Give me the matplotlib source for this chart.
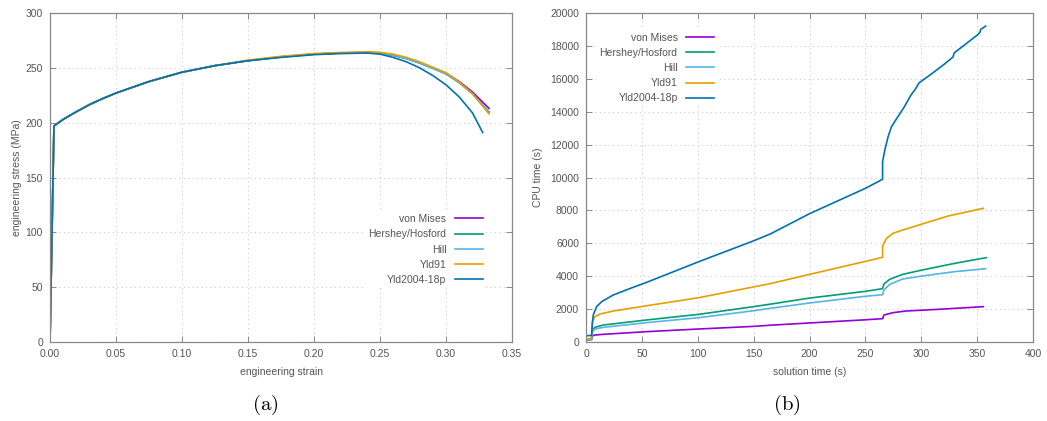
#!/usr/bin/env python3
# -*- coding: utf-8 -*-
"""
    Engineering stress-strain curves and CPU time for the yield criteria.
"""

import matplotlib
matplotlib.use('Agg')
import matplotlib.pyplot as plt

plt.rcParams['font.family'] = ['Liberation Sans', 'DejaVu Sans']
plt.rcParams['mathtext.fontset'] = 'cm'

labels = ['von Mises', 'Hershey/Hosford', 'Hill', 'Yld91', 'Yld2004-18p']
colors = ['#9400d3', '#009e73', '#56b4e9', '#e69f00', '#0072b2']

# (a) engineering strain vs engineering stress (MPa)
strain = [0.0, 0.003, 0.01, 0.02, 0.03, 0.04, 0.05, 0.075, 0.10, 0.125,
          0.15, 0.175, 0.20, 0.22, 0.24, 0.25, 0.26, 0.27, 0.28, 0.29,
          0.30, 0.31, 0.32, 0.3326]
stress_vm = [0, 197, 203, 210, 216.5, 222, 227, 237.5, 246, 252,
             256.5, 260, 262.5, 263.5, 264, 263.5, 261.5, 258.5, 254.5, 250,
             245, 237.5, 228, 213]
stress_hh = [0, 197, 203, 210, 216.5, 222, 227, 237.5, 246, 252,
             256.5, 260, 262.5, 263.5, 264, 263.5, 261.5, 258.5, 254.5, 249.5,
             244.5, 236.5, 226.5, 209.5]
stress_hill = [0, 197, 203, 210, 216.5, 222, 227, 237.5, 246, 252,
               256.5, 260, 262.5, 263.5, 264, 263.5, 261.5, 258.5, 254.5, 249.5,
               244.5, 236.5, 226.5, 210]
stress_yld91 = [0, 197, 203, 210, 216.5, 222, 227, 237.5, 246, 252,
                257, 260.5, 263, 264, 264.5, 264.2, 262.5, 259.5, 255.5, 250.5,
                245.5, 237, 226.5, 208]
strain_yld2004 = [0.0, 0.003, 0.01, 0.02, 0.03, 0.04, 0.05, 0.075, 0.10, 0.125,
                  0.15, 0.175, 0.20, 0.22, 0.24, 0.25, 0.26, 0.27, 0.28, 0.29,
                  0.30, 0.31, 0.32, 0.3278]
stress_yld2004 = [0, 197, 203, 210, 216.5, 222, 227, 237.5, 246, 252,
                  256.5, 259.5, 262, 263, 263.5, 262.5, 259.5, 255.5, 250, 243,
                  234.5, 223.5, 209, 191]

# (b) solution time (s) vs CPU time (s)
t_vm = [0, 5, 5.7, 8, 15.5, 54, 101, 150, 165, 200, 250, 265.4, 266.6,
        274.7, 286.3, 315.4, 355.5]
cpu_vm = [100, 150, 365, 426, 466, 628, 790, 950, 1020, 1157, 1350, 1418, 1641,
          1783, 1884, 1986, 2148]
t_hh = [0, 5, 5.7, 8, 15.5, 54, 101, 150, 165, 200, 250, 265.4, 266.6,
        271.8, 283.4, 300.9, 330, 358.1]
cpu_hh = [120, 200, 730, 892, 1033, 1337, 1682, 2150, 2300, 2670, 3080, 3242,
          3526, 3810, 4113, 4377, 4782, 5127]
t_hill = [0, 5, 5.7, 8, 15.5, 54, 101, 150, 165, 200, 250, 265.4, 266.6,
          271.8, 283.4, 300.9, 330, 357.6]
cpu_hill = [110, 180, 628, 790, 892, 1175, 1479, 1900, 2050, 2370, 2780, 2877,
            3161, 3505, 3830, 4012, 4276, 4458]
t_yld91 = [0, 5, 5.7, 8, 12.5, 24.4, 54, 101, 165, 200, 250, 265.4, 265.4,
           268.9, 274.7, 283.4, 300.9, 324.1, 355.5]
cpu_yld91 = [150, 250, 1236, 1540, 1702, 1884, 2200, 2695, 3550, 4110, 4900,
             5147, 5836, 6302, 6605, 6808, 7173, 7660, 8126]
t_yld2004 = [0, 5, 5.7, 6.5, 9.5, 14, 24.4, 39.3, 54, 101, 150, 165, 200, 250,
             265.4, 265.4, 267.4, 270.3, 273.3, 279, 284.9, 290.7, 295, 298,
             309.6, 321.2, 328.5, 329.4, 340.1, 350.9, 352.6, 353.2, 357.6]
cpu_yld2004 = [380, 400, 1135, 1641, 2148, 2452, 2857, 3250, 3620, 4884, 6150,
               6570, 7800, 9340, 9890, 10960, 11670, 12470, 13080, 13690,
               14300, 15000, 15400, 15750, 16320, 16920, 17330, 17570, 18130,
               18700, 18840, 19000, 19200]

GRAY = '#555555'
FS = 7.5


def style_axes(ax):
    for sp in ax.spines.values():
        sp.set_color('#888888')
        sp.set_linewidth(0.9)
    ax.tick_params(direction='in', length=4, width=0.7, color='#888888',
                   labelcolor=GRAY, labelsize=FS, top=True, right=True, pad=5)
    ax.grid(True, color='#cccccc', linestyle=(0, (1, 3)), linewidth=0.8)
    ax.set_axisbelow(True)


def style_legend(leg):
    leg.get_frame().set_edgecolor('none')
    leg.get_frame().set_facecolor('white')
    leg.get_frame().set_alpha(1)
    for t in leg.get_texts():
        t.set_color(GRAY)


fig = plt.figure(figsize=(10.47, 4.21), dpi=100)
ax1 = fig.add_axes([50 / 1047, 79 / 421, 462 / 1047, 329 / 421])
ax2 = fig.add_axes([586 / 1047, 79 / 421, 447 / 1047, 329 / 421])

series_a = [(strain, stress_vm), (strain, stress_hh), (strain, stress_hill),
            (strain, stress_yld91), (strain_yld2004, stress_yld2004)]
for (x, y), lab, c in zip(series_a, labels, colors):
    ax1.plot(x, y, color=c, lw=1.2, label=lab)
ax1.set_xlim(0, 0.35)
ax1.set_ylim(0, 300)
ax1.set_xticks([0, 0.05, 0.10, 0.15, 0.20, 0.25, 0.30, 0.35])
ax1.set_xticklabels(['0.00', '0.05', '0.10', '0.15', '0.20', '0.25', '0.30', '0.35'])
ax1.set_yticks(range(0, 301, 50))
ax1.set_xlabel('engineering strain', fontsize=FS, color=GRAY, labelpad=6)
ax1.set_ylabel('engineering stress (MPa)', fontsize=FS, color=GRAY, labelpad=3)
style_axes(ax1)
leg1 = ax1.legend(loc='center right', bbox_to_anchor=(0.955, 0.281),
                  markerfirst=False, frameon=True, fontsize=FS,
                  handlelength=2.7, labelspacing=0.5, borderpad=0.3,
                  handletextpad=0.8)
style_legend(leg1)

series_b = [(t_vm, cpu_vm), (t_hh, cpu_hh), (t_hill, cpu_hill),
            (t_yld91, cpu_yld91), (t_yld2004, cpu_yld2004)]
for (x, y), lab, c in zip(series_b, labels, colors):
    ax2.plot(x, y, color=c, lw=1.2, label=lab)
ax2.set_xlim(0, 400)
ax2.set_ylim(0, 20000)
ax2.set_xticks(range(0, 401, 50))
ax2.set_yticks(range(0, 20001, 2000))
ax2.set_xlabel('solution time (s)', fontsize=FS, color=GRAY, labelpad=6)
ax2.set_ylabel('CPU time (s)', fontsize=FS, color=GRAY, labelpad=5)
style_axes(ax2)
leg2 = ax2.legend(loc='center right', bbox_to_anchor=(0.305, 0.833),
                  markerfirst=False, frameon=True, fontsize=FS,
                  handlelength=2.7, labelspacing=0.5, borderpad=0.3,
                  handletextpad=0.8)
style_legend(leg2)

fig.text(265 / 1047, 1 - 405 / 421, r'$\mathrm{(a)}$', fontsize=15,
         ha='center', va='center')
fig.text(787 / 1047, 1 - 405 / 421, r'$\mathrm{(b)}$', fontsize=15,
         ha='center', va='center')

fig.savefig('out.png', dpi=100)
